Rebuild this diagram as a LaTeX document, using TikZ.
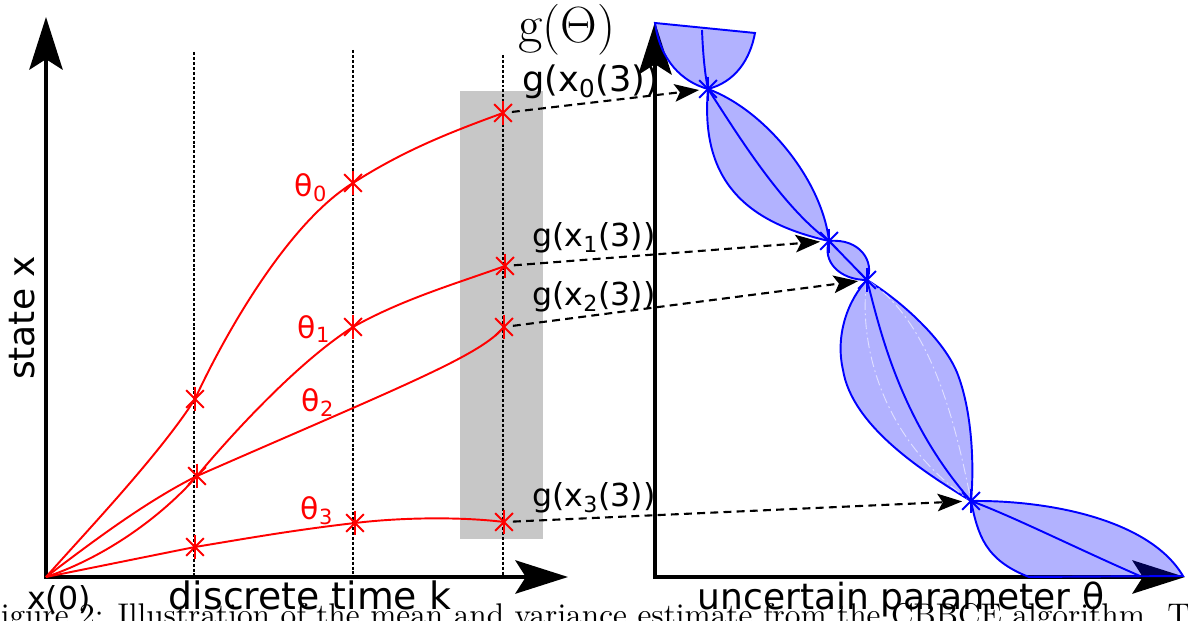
\documentclass[tikz,border=0pt]{standalone}
\usepackage{fontspec}
\newfontfamily\sfont{DejaVu Sans}
\usetikzlibrary{arrows.meta,shapes.misc}
\begin{document}
\begin{tikzpicture}[x=0.02cm,y=-0.02cm,every node/.style={inner sep=0pt,font=\sfont\fontsize{18}{21}\selectfont},
  ax/.style={line width=1.9pt,{Stealth[length=30pt,width=19pt,inset=6pt]}-{Stealth[length=30pt,width=19pt,inset=6pt]}},
  guide/.style={line width=0.8pt,dash pattern=on 1.7pt off 1.1pt},
  traj/.style={red,line width=1.1pt},
  rx/.style={cross out,draw=red,line width=1.1pt,minimum size=9pt,append after command={([yshift=2pt]\tikzlastnode.north) edge[red,line width=1.1pt] ([yshift=-2pt]\tikzlastnode.south)}},
  bx/.style={cross out,draw=blue,line width=1.1pt,minimum size=9pt,append after command={([yshift=2pt]\tikzlastnode.north) edge[blue,line width=1.1pt] ([yshift=-2pt]\tikzlastnode.south)}},
  lobe/.style={draw=blue,line width=1.1pt,fill=blue,fill opacity=0.3},
  mid/.style={blue,line width=1.1pt},
  map/.style={line width=1.2pt,dash pattern=on 4.5pt off 3pt,-{Stealth[length=14pt,width=10pt,inset=3pt]}},
  axlbl/.style={font=\sfont\fontsize{20.5}{24}\selectfont},
  th/.style={red,font=\sfont\fontsize{17}{20}\selectfont}]
\useasboundingbox (0,0) rectangle (1188,621);
\clip (0,0) rectangle (1188,621);
\fill[black!22] (460,91) rectangle (543,539);
\coordinate (o) at (46,577);
\coordinate (o2) at (655,577);
\foreach \x/\y in {194/52,353/50,503/55} \draw[guide] (\x,\y) -- (\x,577);
\draw[ax] (46,17) -- (o) -- (568,577);
\draw[ax] (655,22) -- (o2) -- (1185,577);
\node[rx] (a0) at (195,399) {};
\node[rx] (b0) at (353,183) {};
\node[rx] (c0) at (503,113) {};
\node[rx] (s) at (197,476) {};
\node[rx] (b1) at (353,327) {};
\node[rx] (c1) at (505,266) {};
\node[rx] (c2) at (504,327) {};
\node[rx] (a3) at (195,547) {};
\node[rx] (b3) at (355,523) {};
\node[rx] (c3) at (504,522) {};
\draw[traj] (o) .. controls +(40,-45) and +(-35,55) .. (a0.center) .. controls +(30,-65) and +(-65,40) .. (b0.center) .. controls +(50,-32) and +(-55,20) .. (c0.center);
\draw[traj] (o) .. controls +(60,-20) and +(-35,40) .. (s.center) .. controls +(35,-42) and +(-55,35) .. (b1.center) .. controls +(50,-28) and +(-50,18) .. (c1.center);
\draw[traj] (o) .. controls +(50,-38) and +(-50,25) .. (s.center) .. controls (400,387) and (480,356) .. (c2.center);
\draw[traj] (o) .. controls +(50,-10) and +(-50,10) .. (a3.center) .. controls +(60,-10) and +(-60,7) .. (b3.center) .. controls +(50,-6) and +(-40,-5) .. (c3.center);
\coordinate (p0) at (708,89);
\coordinate (p1) at (829,241);
\coordinate (p2) at (867,280);
\coordinate (p3) at (971,501);
\path[lobe] (655,23) -- (755,33) .. controls (750,60) and (735,82) .. (p0) .. controls (682,82) and (660,60) .. cycle;
\draw[mid] (702,30) .. controls (703,55) and (705,75) .. (p0);
\path[lobe] (p0) .. controls (700,180) and (745,222) .. (p1) .. controls (822,180) and (765,110) .. cycle;
\draw[mid] (p0) .. controls (735,130) and (780,205) .. (p1);
\path[lobe] (p1) .. controls (860,238) and (875,262) .. (p2) .. controls (840,280) and (822,262) .. cycle;
\draw[mid] (p1) -- (p2);
\path[lobe] (p2) .. controls (848,300) and (835,335) .. (843,370) .. controls (852,425) and (920,470) .. (p3) .. controls (974,470) and (973,415) .. (958,375) .. controls (945,340) and (900,300) .. cycle;
\draw[white,opacity=0.6,line width=0.5pt,dash pattern=on 6pt off 2pt on 1pt off 2pt] (p2) .. controls (858,340) and (880,440) .. (p3) (p2) .. controls (930,320) and (955,420) .. (p3);
\draw[mid] (p2) .. controls (880,330) and (900,420) .. (p3);
\path[lobe] (p3) .. controls (1050,500) and (1150,520) .. (1183,576) -- (1029,577) .. controls (985,560) and (978,535) .. cycle;
\draw[mid] (p3) .. controls (1010,515) and (1080,550) .. (1140,576);
\node[bx] (q0) at (p0) {};
\node[bx] (q1) at (p1) {};
\node[bx] (q2) at (p2) {};
\node[bx] (q3) at (p3) {};
\draw[map] (c0) -- (q0);
\draw[map] (c1) -- (q1);
\draw[map] (c2) -- (q2);
\draw[map] (c3) -- (q3);
\node[anchor=west,font=\sfont\fontsize{20}{23}\selectfont] (l0) at (522,82) {g(x\textsubscript{0}(3))};
\node[anchor=west] (l1) at (532,238) {g(x\textsubscript{1}(3))};
\node[anchor=west] (l2) at (532,297) {g(x\textsubscript{2}(3))};
\node[anchor=west] (l3) at (532,498) {g(x\textsubscript{3}(3))};
\node[th] (t0) at (311,188) {θ\textsubscript{0}};
\node[th] (t1) at (314,329) {θ\textsubscript{1}};
\node[th] (t2) at (318,403) {θ\textsubscript{2}};
\node[th] (t3) at (317,511) {θ\textsubscript{3}};
\node[axlbl,rotate=90] (yl) at (22,318) {state x};
\node[axlbl,anchor=base,font=\sfont\fontsize{21.5}{25}\selectfont] (xl) at (310,610) {discrete time k};
\node[axlbl,anchor=base] (tl) at (901,610) {uncertain parameter θ};
\node[anchor=base] (x0) at (59,610) {x(0)};
\node[anchor=base] (gt) at (567,43) {\resizebox{1.94cm}{!}{$\mathrm{g}(\Theta)$}};
\node[anchor=north west,font=\rmfamily\fontsize{10}{12}\selectfont] (cap) at (-20,603) {\resizebox{24.2cm}{!}{Figure 2: Illustration of the mean and variance estimate from the CBBCE algorithm. T}};
\end{tikzpicture}
\end{document}
